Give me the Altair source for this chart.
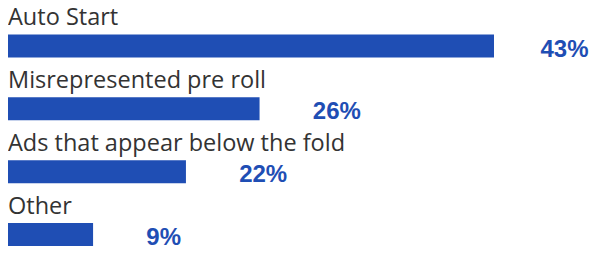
import altair as alt
import pandas as pd

categories = ["Auto Start", "Misrepresented pre roll", "Ads that appear below the fold", "Other"]
share_labels = ["43%", "26%", "22%", "9%"]
bar_values = [43, 22.3, 15.8, 7.6]

df = pd.DataFrame({
    "category": categories,
    "label": share_labels,
    "value": bar_values,
    "row": list(range(len(categories))),
    "zero": [0] * len(categories),
})

BLUE = "#1f4eb4"

y_enc = alt.Y("row:Q", axis=None,
              scale=alt.Scale(domain=[0, 3], range=[38, 226.5], nice=False, zero=False, padding=0))
x_scale = alt.Scale(domain=[0, 43], range=[-1, 486], nice=False, zero=True, padding=0)

bars = alt.Chart(df).mark_bar(size=23, color=BLUE, orient="horizontal").encode(
    x=alt.X("zero:Q", scale=x_scale, axis=None),
    x2="value:Q",
    y=y_enc,
)

cat_text = alt.Chart(df).mark_text(
    align="left", baseline="alphabetic", dx=1, dy=-21,
    font="Open Sans", fontSize=23.5, color="#333333"
).encode(
    x=alt.X("zero:Q", scale=x_scale, axis=None),
    y=y_enc,
    text="category:N",
)

# value label sits a little to the right of its bar, kept inside the view
pct_text = alt.Chart(df).transform_calculate(
    label_x="min(datum.value + 4.7, 47.1)"
).mark_text(
    align="left", baseline="alphabetic", dy=10.5,
    font="Liberation Sans", fontSize=24, fontWeight="bold", color=BLUE
).encode(
    x=alt.X("label_x:Q", scale=x_scale, axis=None),
    y=y_enc,
    text="label:N",
)

chart = alt.layer(bars, cat_text, pct_text).properties(
    width=581, height=238,
    padding=0,
    autosize=alt.AutoSizeParams(type="none"),
).configure_view(stroke=None)

chart.save("out.html", embed_options={"renderer": "svg", "actions": False})
